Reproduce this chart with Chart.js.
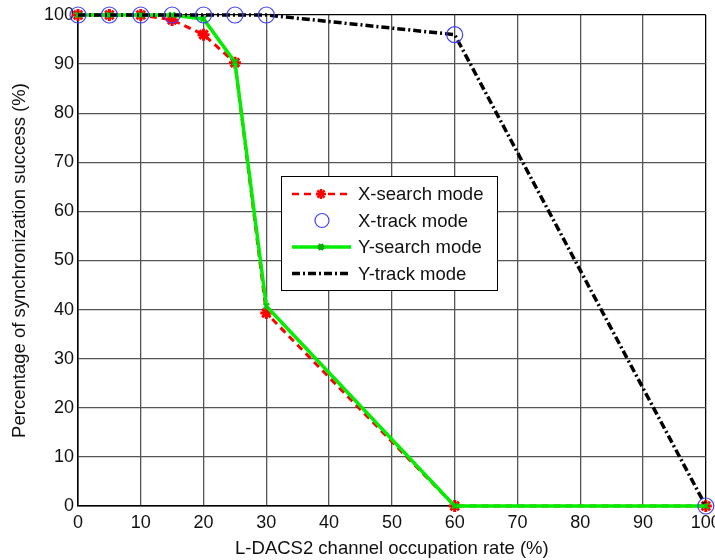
<!DOCTYPE html>
<html>
<head>
<meta charset="utf-8">
<script src="https://cdn.jsdelivr.net/npm/chart.js@4.4.1/dist/chart.umd.min.js"></script>
<style>
  html, body { margin: 0; padding: 0; background: #fff; }
  #wrap { width: 715px; height: 560px; position: relative; }
</style>
</head>
<body>
<div id="wrap"><canvas id="syncChart" width="715" height="560"></canvas></div>
<script>
// occupation rate (%) on the x axis
const occupation = [0, 5, 10, 15, 20, 25, 30, 60, 100];

// success (%) per mode
const xSearch = [100, 100, 100, 99, 96, 90.3, 39.3, 0, 0];
const xTrack  = [100, 100, 100, 100, 100, 100, 100, 96, 0];
const ySearch = [100, 100, 100, 100, 99.2, 90.4, 40.7, 0, 0];
const yTrack  = [100, 100, 100, 100, 100, 100, 100, 96, 0];

const xTicks = [0, 10, 20, 30, 40, 50, 60, 70, 80, 90, 100];
const yTicks = [0, 10, 20, 30, 40, 50, 60, 70, 80, 90, 100];

const FONT = 'Liberation Sans, Arial, sans-serif';

const pts = ys => occupation.map((x, i) => ({ x, y: ys[i] }));

// legend box drawn inside the axes, like matlab's
const legendItems = [
  { label: 'X-search mode', color: '#ff0000', dash: [7, 5], width: 2.5, marker: 'star', line: true },
  { label: 'X-track mode',  color: '#4040ff', dash: [],     width: 1.2, marker: 'circle', line: false },
  { label: 'Y-search mode', color: '#00ee00', dash: [],     width: 3.5, marker: 'crossRot', line: true },
  { label: 'Y-track mode',  color: '#000000', dash: [8, 3, 2, 3], width: 3.5, marker: null, line: true }
];

const boxLegend = {
  id: 'boxLegend',
  afterDraw(chart) {
    const c = chart.ctx;
    const bx = 281, by = 176, bw = 216, bh = 114;
    c.save();
    c.fillStyle = '#fff';
    c.fillRect(bx, by, bw, bh);
    c.strokeStyle = '#000';
    c.lineWidth = 1;
    c.strokeRect(bx + 0.5, by + 0.5, bw, bh);
    c.font = '18.5px ' + FONT;
    c.textBaseline = 'middle';
    legendItems.forEach((it, i) => {
      const y = by + 18 + i * 26.5;
      if (it.line) {
        c.beginPath();
        c.setLineDash(it.dash);
        c.strokeStyle = it.color;
        c.lineWidth = it.width;
        c.moveTo(292, y);
        c.lineTo(351, y);
        c.stroke();
        c.setLineDash([]);
      }
      if (it.marker === 'circle') {
        c.beginPath();
        c.strokeStyle = it.color;
        c.lineWidth = 1.2;
        c.arc(322, y, 7, 0, Math.PI * 2);
        c.stroke();
      } else if (it.marker === 'star') {
        c.strokeStyle = it.color;
        Chart.helpers.drawPoint(c, { pointStyle: 'star', radius: 5, borderWidth: 3 }, 321, y);
      } else if (it.marker === 'crossRot') {
        c.strokeStyle = '#00aa00';
        Chart.helpers.drawPoint(c, { pointStyle: 'crossRot', radius: 3.5, borderWidth: 1.5 }, 321, y);
      }
      c.fillStyle = '#111';
      c.fillText(it.label, 358, y + 1);
    });
    c.restore();
  }
};

const edgeColor = ctx => (ctx.tick && (ctx.tick.value === 0 || ctx.tick.value === 100)) ? '#000' : '#555';

new Chart(document.getElementById('syncChart'), {
  type: 'scatter',
  data: {
    datasets: [
      {
        label: 'X-track mode',
        data: pts(xTrack),
        showLine: false,
        clip: false,
        pointStyle: 'circle',
        pointRadius: 8,
        pointBorderColor: '#4040ff',
        pointBackgroundColor: 'rgba(0,0,0,0)',
        pointBorderWidth: 1.2,
        order: 0
      },
      {
        label: 'Y-track mode',
        data: pts(yTrack),
        showLine: true,
        clip: false,
        borderColor: '#000',
        borderWidth: 3.5,
        borderDash: [8, 3, 2, 3],
        pointRadius: 0,
        order: 1
      },
      {
        label: 'Y-search mode',
        data: pts(ySearch),
        showLine: true,
        clip: false,
        borderColor: '#00ee00',
        borderWidth: 3.5,
        pointStyle: 'crossRot',
        pointRadius: 4,
        pointBorderColor: '#00cc00',
        pointBorderWidth: 2,
        order: 2
      },
      {
        label: 'X-search mode',
        data: pts(xSearch),
        showLine: true,
        clip: false,
        borderColor: '#ff0000',
        borderWidth: 3,
        borderDash: [7, 5],
        pointStyle: 'star',
        pointRadius: 6,
        pointBorderColor: '#ff0000',
        pointBorderWidth: 3,
        order: 3
      }
    ]
  },
  options: {
    responsive: false,
    animation: false,
    layout: { padding: { top: 15, right: 9, left: 0, bottom: 0 } },
    plugins: {
      legend: { display: false },
      tooltip: { enabled: false }
    },
    scales: {
      x: {
        type: 'linear',
        min: 0,
        max: 100,
        afterBuildTicks: s => { s.ticks = xTicks.map(v => ({ value: v })); },
        afterFit: s => { s.height = 54; s.paddingLeft = 0; s.paddingRight = 0; },
        grid: { color: edgeColor, lineWidth: 1.3, drawTicks: false },
        border: { color: '#000', width: 1.5 },
        ticks: { color: '#111', padding: 6, font: { family: FONT, size: 18 } },
        title: {
          display: true,
          text: 'L-DACS2 channel occupation rate (%)',
          color: '#111',
          padding: { top: 4, bottom: 0 },
          font: { family: FONT, size: 18.5 }
        }
      },
      y: {
        type: 'linear',
        min: 0,
        max: 100,
        afterBuildTicks: s => { s.ticks = yTicks.map(v => ({ value: v })); },
        afterFit: s => { s.width = 78; s.paddingTop = 0; s.paddingBottom = 0; },
        grid: { color: edgeColor, lineWidth: 1.3, drawTicks: false },
        border: { color: '#000', width: 1.5 },
        ticks: { color: '#111', padding: 4, font: { family: FONT, size: 18 } },
        title: {
          display: true,
          text: 'Percentage of synchronization success (%)',
          color: '#111',
          padding: { top: 9, bottom: 4 },
          font: { family: FONT, size: 18.5 }
        }
      }
    }
  },
  plugins: [boxLegend]
});
</script>
</body>
</html>
